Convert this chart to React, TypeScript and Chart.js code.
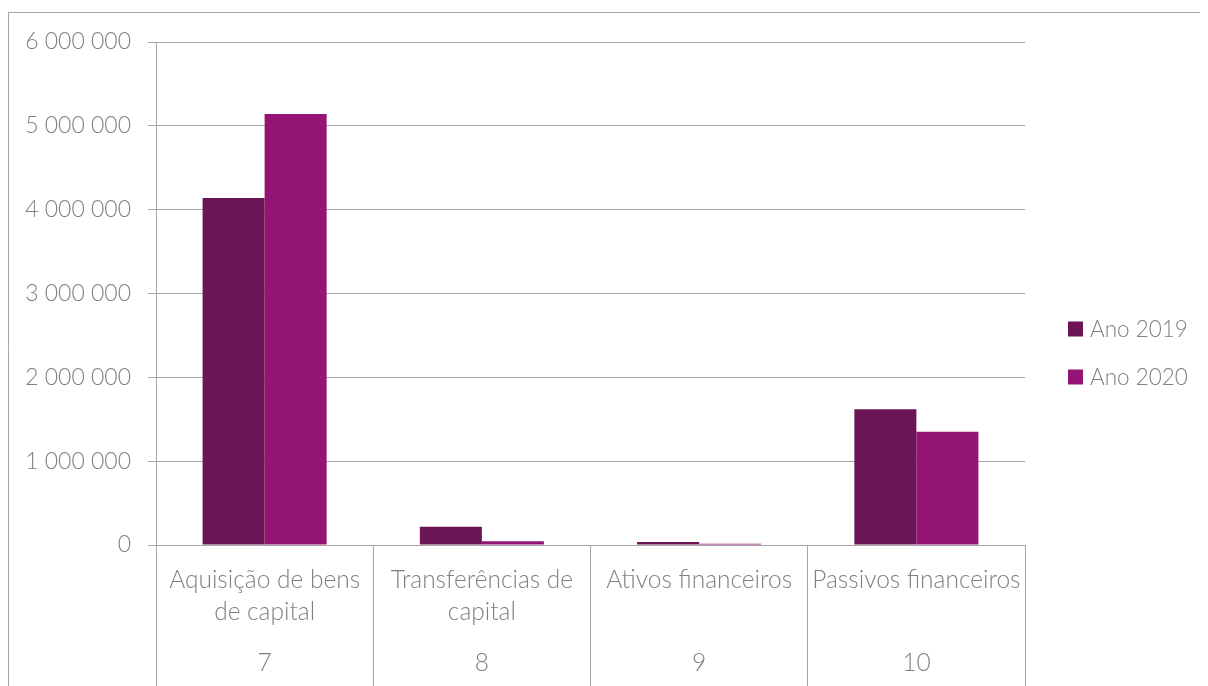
import React, { useEffect, useRef } from 'react';
import { Chart, registerables } from 'chart.js';

Chart.register(...registerables);

const categories: string[][] = [
  ['Aquisição de bens', 'de capital'],
  ['Transferências de', 'capital'],
  ['Ativos financeiros'],
  ['Passivos financeiros'],
];
const codes = ['7', '8', '9', '10'];
const seriesNames = ['Ano 2019', 'Ano 2020'];
const values2019 = [4140000, 218000, 35000, 1620000];
const values2020 = [5140000, 45000, 15000, 1350000];
const seriesColors = ['#6B1456', '#941476'];
const yMin = 0;
const yMax = 6000000;
const yStep = 1000000;

const GRID = '#a6a6a6';
const TEXT = '#808080';
const FONT = 'Lato, "Open Sans", sans-serif';

const fmt = (v: number) => String(Math.round(v)).replace(/\B(?=(\d{3})+(?!\d))/g, ' ');

const frame = {
  id: 'frame',
  beforeDraw(chart: any) {
    const { ctx, width, height } = chart;
    ctx.save();
    ctx.strokeStyle = GRID;
    ctx.lineWidth = 1;
    ctx.beginPath();
    ctx.moveTo(0, 4.5);
    ctx.lineTo(width, 4.5);
    ctx.stroke();
    ctx.beginPath();
    ctx.moveTo(0.5, 4.5);
    ctx.lineTo(0.5, height);
    ctx.stroke();
    ctx.restore();
  },
};

const sideLegend = {
  id: 'sideLegend',
  afterDraw(chart: any) {
    const { ctx, chartArea, height } = chart;
    const x = chartArea.right + 43;
    const cy = height / 2 + 6;
    ctx.save();
    ctx.font = `300 22.5px ${FONT}`;
    ctx.textBaseline = 'middle';
    ctx.textAlign = 'left';
    chart.data.datasets.forEach((ds: any, i: number) => {
      const y = cy + (i - 0.5) * 48;
      ctx.fillStyle = ds.backgroundColor;
      ctx.fillRect(x, y - 7.5, 15, 15);
      ctx.fillStyle = TEXT;
      ctx.fillText(ds.label, x + 22, y + 1);
    });
    ctx.restore();
  },
};

export default function App() {
  const ref = useRef<HTMLCanvasElement | null>(null);
  useEffect(() => {
    document.body.style.overflow = 'hidden';
    const chart = new Chart(ref.current as HTMLCanvasElement, {
      type: 'bar',
      data: {
        labels: categories as any,
        datasets: [
          { label: seriesNames[0], data: values2019, backgroundColor: seriesColors[0], categoryPercentage: 0.571, barPercentage: 1 },
          { label: seriesNames[1], data: values2020, backgroundColor: seriesColors[1], categoryPercentage: 0.571, barPercentage: 1 },
        ],
      },
      options: {
        animation: false,
        responsive: false,
        layout: { padding: { top: 34, right: 183, left: 0, bottom: 0 } },
        plugins: { legend: { display: false }, tooltip: { enabled: false } },
        scales: {
          y: {
            min: yMin,
            max: yMax,
            afterFit: (s: any) => { s.width = 148; },
            ticks: {
              stepSize: yStep,
              color: TEXT,
              padding: 17,
              font: { family: FONT, size: 23, weight: '300' as any },
              callback: (v: any) => fmt(Number(v)),
            },
            grid: { color: GRID, lineWidth: 1, tickLength: 8, drawTicks: true },
            border: { display: true, color: GRID },
          },
          x: {
            type: 'category',
            position: 'bottom',
            weight: 0,
            offset: true,
            afterFit: (s: any) => { s.height = 83; },
            grid: { offset: true, drawOnChartArea: false, drawTicks: true, tickLength: 83, color: GRID },
            border: { display: false },
            ticks: {
              color: TEXT,
              padding: -64,
              maxRotation: 0,
              minRotation: 0,
              autoSkip: false,
              font: { family: FONT, size: 24.5, weight: '300' as any, lineHeight: 1.306 },
            },
          },
          x2: {
            type: 'category',
            position: 'bottom',
            weight: 1,
            offset: true,
            labels: codes,
            afterFit: (s: any) => { s.height = 58; },
            grid: { offset: true, drawOnChartArea: false, drawTicks: true, tickLength: 58, color: GRID },
            border: { display: false },
            ticks: {
              color: TEXT,
              padding: -38,
              maxRotation: 0,
              minRotation: 0,
              autoSkip: false,
              font: { family: FONT, size: 24.5, weight: '300' as any, lineHeight: 1.2 },
            },
          },
        } as any,
      },
      plugins: [frame, sideLegend],
    });
    return () => chart.destroy();
  }, []);
  return <canvas ref={ref} width={1200} height={678} style={{ display: 'block' }} />;
}
